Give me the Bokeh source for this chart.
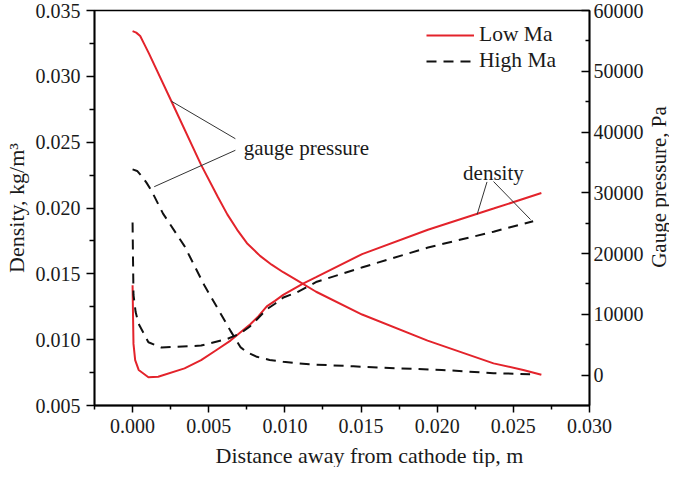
import math
from bokeh.plotting import figure
from bokeh.layouts import row, column
from bokeh.models import (Range1d, LinearAxis, FixedTicker, NumeralTickFormatter,
                          Legend, LegendItem)
from bokeh.core.properties import value
from bokeh.embed import file_html
from bokeh.resources import INLINE

# ---- data ----
x_low_p = [0.0, 0.00024, 0.0005, 0.00076, 0.00108, 0.00255, 0.0045, 0.0056, 0.00622, 0.00687,
           0.00751, 0.00837, 0.00913, 0.00989, 0.01075, 0.01205, 0.01507, 0.01937, 0.0237,
           0.02565, 0.02684]
p_low = [56600, 56360, 55800, 54500, 52900, 45070, 34600, 29300, 26450, 23910,
         21710, 19620, 18170, 16930, 15680, 13720, 9970, 5680, 1930,
         850, 50]

x_high_p = [0.0, 0.0003, 0.00058, 0.00091, 0.00123, 0.002, 0.00341, 0.00471, 0.00557, 0.00643,
            0.00708, 0.00751, 0.00816, 0.009, 0.00989, 0.01161, 0.0145, 0.0172, 0.0203,
            0.0237, 0.0261]
p_high = [33850, 33600, 32800, 31680, 30390, 26580, 21230, 14790, 11050, 7280,
          4610, 3780, 3010, 2490, 2200, 1770, 1450, 1130, 850,
          320, 160]

x_low_d = [0.0, 0.00003, 0.00006, 0.00017, 0.0004, 0.00104, 0.00168, 0.00341, 0.0045, 0.00546,
           0.00643, 0.00773, 0.00827, 0.00881, 0.00935, 0.00989, 0.01119, 0.01205, 0.01507,
           0.01939, 0.0237, 0.02684]
d_low = [0.01414, 0.0118, 0.00968, 0.00844, 0.0077, 0.00715, 0.00718, 0.00782, 0.00844, 0.00918,
         0.00993, 0.01117, 0.01178, 0.01253, 0.01295, 0.0134, 0.01426, 0.01475, 0.0165,
         0.01835, 0.01996, 0.02114]

x_high_d = [0.0, 0.00003, 0.00006, 0.0002, 0.0004, 0.00104, 0.0019, 0.00276, 0.0045, 0.0062,
            0.00708, 0.0077, 0.00827, 0.0088, 0.00935, 0.0099, 0.0108, 0.0121, 0.0151,
            0.0194, 0.0237, 0.0263]
d_high = [0.0189, 0.0160, 0.0134, 0.0121, 0.0112, 0.0098, 0.0094, 0.00946, 0.00955, 0.01005,
          0.01048, 0.0110, 0.01166, 0.0123, 0.01273, 0.0132, 0.0136, 0.0144, 0.0155,
          0.0170, 0.0182, 0.0190]

series_names = ["Low Ma", "High Ma"]

x_ticks = [0.0, 0.005, 0.010, 0.015, 0.020, 0.025, 0.030]
x_minor = [-0.0025, 0.0025, 0.0075, 0.0125, 0.0175, 0.0225, 0.0275]
d_ticks = [0.005, 0.010, 0.015, 0.020, 0.025, 0.030, 0.035]
d_minor = [0.0075, 0.0125, 0.0175, 0.0225, 0.0275, 0.0325]
p_ticks = [0, 10000, 20000, 30000, 40000, 50000, 60000]
p_minor = [5000, 15000, 25000, 35000, 45000, 55000]

x_title = ["Distance away from cathode tip, m"]
y_left_title = "Density, kg/m\u00b3"
y_right_title = ["Gauge pressure, Pa"]

# annotation leader lines: gauge pressure (pressure axis), density (density axis)
gp_x0 = [0.00255, 0.00675]
gp_y0 = [45070, 37000]
gp_x1 = [0.00675, 0.00142]
gp_y1 = [38900, 31000]
gp_label = ["gauge pressure"]
gp_label_x = [0.0073]
gp_label_y = [37300]

de_x0 = [0.02327, 0.0237]
de_y0 = [0.02198, 0.02201]
de_x1 = [0.02262, 0.02613]
de_y1 = [0.0195, 0.01912]
de_label = ["density"]
de_label_x = [0.0217]
de_label_y = [0.02268]

# ---- figure ----
FONT = "Liberation Serif"
RED = "#e3232b"
BLACK = "#111111"
TXT = "#1a1a1a"

p = figure(width=647, height=443, output_backend="svg", toolbar_location=None,
           x_range=Range1d(-0.0025, 0.030), y_range=Range1d(0.005, 0.035),
           min_border_left=88, min_border_right=58, min_border_top=10, min_border_bottom=38)
p.extra_y_ranges = {"pres": Range1d(-5000, 60000)}
p.grid.visible = False
p.outline_line_color = "black"
p.outline_line_width = 1.5
p.background_fill_color = "white"
p.border_fill_color = "white"


def style_axis(ax, tin, tout, mtin, mtout):
    ax.axis_line_color = "black"
    ax.axis_line_width = 1.8
    ax.major_tick_line_color = "black"
    ax.minor_tick_line_color = "black"
    ax.major_tick_line_width = 1.5
    ax.minor_tick_line_width = 1.5
    ax.major_tick_in = tin
    ax.major_tick_out = tout
    ax.minor_tick_in = mtin
    ax.minor_tick_out = mtout
    ax.major_label_text_font = FONT
    ax.major_label_text_font_size = "20px"
    ax.major_label_text_color = TXT
    ax.axis_label_text_font = FONT
    ax.axis_label_text_font_size = "22px"
    ax.axis_label_text_font_style = "normal"
    ax.axis_label_text_color = TXT


xa = p.xaxis[0]
xa.ticker = FixedTicker(ticks=x_ticks, minor_ticks=x_minor)
xa.formatter = NumeralTickFormatter(format="0.000")
style_axis(xa, 0, 7, 0, 4)
xa.major_label_standoff = 6
xa.axis_label_standoff = 0
xa.axis_label_text_font_size = "1px"

ya = p.yaxis[0]
ya.ticker = FixedTicker(ticks=d_ticks, minor_ticks=d_minor)
ya.formatter = NumeralTickFormatter(format="0.000")
ya.axis_label = y_left_title
style_axis(ya, 0, 8, 0, 5)
ya.major_label_standoff = 6
ya.axis_label_standoff = 4

yr = LinearAxis(y_range_name="pres")
yr.ticker = FixedTicker(ticks=p_ticks, minor_ticks=p_minor)
yr.formatter = NumeralTickFormatter(format="0")
style_axis(yr, 8, 0, 4, 0)
yr.major_label_standoff = 4
yr.axis_label_standoff = 0
yr.axis_label_text_font_size = "1px"
p.add_layout(yr, "right")

# ---- curves ----
r_low_p = p.line(x_low_p, p_low, y_range_name="pres", line_color=RED, line_width=2)
r_high_p = p.line(x_high_p, p_high, y_range_name="pres", line_color=BLACK,
                  line_width=2, line_dash="10 7")
r_low_d = p.line(x_low_d, d_low, line_color=RED, line_width=2)
r_high_d = p.line(x_high_d, d_high, line_color=BLACK, line_width=2, line_dash="10 7")

# ---- annotations ----
p.segment(x0=gp_x0, y0=gp_y0, x1=gp_x1, y1=gp_y1, y_range_name="pres",
          line_color="#333333", line_width=1)
p.text(x=gp_label_x, y=gp_label_y, text=gp_label, y_range_name="pres",
       text_font=value(FONT), text_font_size="21px", text_color=TXT,
       text_align="left", text_baseline="alphabetic")
p.segment(x0=de_x0, y0=de_y0, x1=de_x1, y1=de_y1, line_color="#333333", line_width=1)
p.text(x=de_label_x, y=de_label_y, text=de_label,
       text_font=value(FONT), text_font_size="21px", text_color=TXT,
       text_align="left", text_baseline="alphabetic")


# ---- legend (one entry per legend box for exact row placement) ----
def make_legend(label, renderer, loc):
    lg = Legend(items=[LegendItem(label=label, renderers=[renderer])], location=loc)
    lg.border_line_color = None
    lg.background_fill_alpha = 0
    lg.label_text_font = FONT
    lg.label_text_font_size = "21.5px"
    lg.label_text_color = TXT
    lg.glyph_width = 48
    lg.glyph_height = 20
    lg.label_height = 20
    lg.label_standoff = 5
    lg.padding = 0
    lg.margin = 0
    return lg


p.add_layout(make_legend(series_names[0], r_low_p, (332, 358)))
p.add_layout(make_legend(series_names[1], r_high_p, (332, 332)))


# ---- narrow strips carrying the right-hand and bottom axis titles ----
def strip(w, h):
    s = figure(width=w, height=h, output_backend="svg", toolbar_location=None,
               x_range=Range1d(0, 1), y_range=Range1d(0, 1),
               x_axis_location=None, y_axis_location=None, min_border=0)
    s.grid.visible = False
    s.outline_line_color = None
    s.background_fill_color = "white"
    s.border_fill_color = "white"
    return s


p2 = strip(22, 443)
p2.text(x=[0.5], y=[0.553], text=y_right_title, angle=math.pi / 2,
        text_font=value(FONT), text_font_size="21px", text_color=TXT,
        text_align="center", text_baseline="middle")

p3 = strip(669, 24)
p3.text(x=[0.5516], y=[0.5], text=x_title,
        text_font=value(FONT), text_font_size="22px", text_color=TXT,
        text_align="center", text_baseline="middle")

layout = column(row(p, p2), p3)
open("out.html", "w").write(file_html(layout, INLINE))
